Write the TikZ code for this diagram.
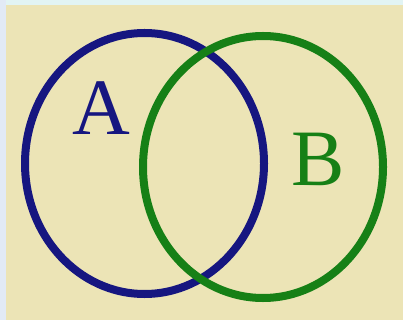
\documentclass[tikz,border=0pt]{standalone}
\usepackage{fontspec}
\setmainfont{Liberation Serif}
\usetikzlibrary{shapes.geometric}
\definecolor{edgeblue}{RGB}{226,234,246}
\definecolor{edgetop}{RGB}{226,244,244}
\definecolor{paper}{RGB}{236,228,182}
\definecolor{setblue}{RGB}{22,22,128}
\definecolor{setgreen}{RGB}{22,128,22}
\tikzset{
  setring/.style={ellipse, draw, line width=8pt, inner sep=0pt, outer sep=0pt},
  setlabel/.style={font=\fontsize{80}{80}\selectfont, inner sep=0pt, anchor=base}
}
\begin{document}
\begin{tikzpicture}[x=1pt,y=-1pt]
\useasboundingbox (0,0) rectangle (403,320);
\fill[edgeblue] (0,0) rectangle (403,320);
\fill[edgetop] (6,0) rectangle (403,5);
\fill[paper] (6,5) rectangle (403,320);
\node[setring, draw=setblue, minimum width=239pt, minimum height=261pt] (A) at (144.5,163.5) {};
\node[setring, draw=setgreen, minimum width=240pt, minimum height=262pt] (B) at (263,167) {};
\node[setlabel, text=setblue] (la) at (101.5,135) {A};
\node[setlabel, text=setgreen] (lb) at (318,185) {B};
\end{tikzpicture}
\end{document}
